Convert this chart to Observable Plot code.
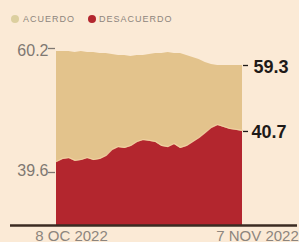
<!DOCTYPE html>
<html><head><meta charset="utf-8">
<script src="https://cdn.jsdelivr.net/npm/d3@7"></script>
<script src="https://cdn.jsdelivr.net/npm/@observablehq/plot@0.6"></script>
<style>
html,body{margin:0;padding:0;background:#fbead6;width:299px;height:242px;overflow:hidden;font-family:"Liberation Sans",Arial,sans-serif}
#legend{position:relative;height:28px}
.sw{position:absolute;top:15px;width:8px;height:8px;border-radius:50%}
.lt{position:absolute;top:14px;font-size:9px;letter-spacing:1px;color:#8d857d;line-height:10px}
</style></head><body>
<div id="legend"></div>
<div id="chart"></div>
<script>
const dates = ["2022-10-08","2022-10-09","2022-10-10","2022-10-11","2022-10-12","2022-10-13","2022-10-14","2022-10-15","2022-10-16","2022-10-17","2022-10-18","2022-10-19","2022-10-20","2022-10-21","2022-10-22","2022-10-23","2022-10-24","2022-10-25","2022-10-26","2022-10-27","2022-10-28","2022-10-29","2022-10-30","2022-10-31","2022-11-01","2022-11-02","2022-11-03","2022-11-04","2022-11-05","2022-11-06","2022-11-07"];
const acuerdo = [60.20,60.20,60.20,60.14,60.20,60.14,60.14,60.07,60.07,60.01,59.94,59.94,59.88,59.94,59.94,60.01,60.07,60.07,60.14,60.07,60.07,59.94,59.81,59.69,59.49,59.36,59.30,59.30,59.30,59.30,59.30];
const desacuerdo = [39.60,39.71,39.74,39.64,39.67,39.74,39.67,39.71,39.81,40.03,40.13,40.10,40.17,40.31,40.38,40.35,40.31,40.17,40.13,40.24,40.10,40.17,40.31,40.45,40.63,40.81,40.91,40.84,40.77,40.74,40.70];
const series = ["ACUERDO","DESACUERDO"];
const colors = ["#e3c38c","#b3262e"];
const startLabels = ["60.2","39.6"];
const endLabels = ["59.3","40.7"];
const xLabels = ["8 OC 2022","7 NOV 2022"];

// legend
const leg = document.getElementById("legend");
const swLeft = [11, 88], txLeft = [23, 99];
series.forEach((s, i) => {
  const sw = document.createElement("div");
  sw.className = "sw"; sw.style.left = swLeft[i] + "px"; sw.style.background = i === 0 ? "#dccf9f" : colors[1];
  leg.appendChild(sw);
  const t = document.createElement("div");
  t.className = "lt"; t.style.left = txLeft[i] + "px"; t.textContent = s;
  leg.appendChild(t);
});

const parse = d3.utcParse("%Y-%m-%d");
const rows = dates.map((d, i) => ({date: parse(d), acuerdo: acuerdo[i], desacuerdo: desacuerdo[i]}));
const first = rows[0], last = rows[rows.length - 1];
const leftA = [{date: first.date, value: first.acuerdo, label: startLabels[0]}];
const leftD = [{date: first.date, value: first.desacuerdo, label: startLabels[1]}];
const rightA = [{date: last.date, value: last.acuerdo, label: endLabels[0]}];
const rightD = [{date: last.date, value: last.desacuerdo, label: endLabels[1]}];
const xl = [{date: first.date, label: xLabels[0]}, {date: last.date, label: xLabels[1]}];

const gray = "#7f7872";
const chart = Plot.plot({
  width: 299, height: 214,
  marginLeft: 10, marginRight: 2, marginTop: 0, marginBottom: 0,
  style: {background: "transparent", overflow: "visible", fontFamily: "'Liberation Sans', Arial, sans-serif"},
  x: {type: "utc", domain: [first.date, last.date], range: [56, 242], axis: null},
  y: {type: "linear", domain: [0, 39.6, 41, 59.3, 60.2], range: [197, 134, 94.5, 37, 23], axis: null},
  marks: [
    Plot.areaY(rows, {x: "date", y: "acuerdo", fill: colors[0]}),
    Plot.areaY(rows, {x: "date", y: "desacuerdo", fill: colors[1]}),
    Plot.line(rows, {x: "date", y: "desacuerdo", stroke: "#f3d3a6", strokeWidth: 1.2, strokeOpacity: 0.8, dy: -1}),
    Plot.ruleY([0], {stroke: "#3b2b22", strokeWidth: 2.5}),
    Plot.ruleY(leftA, {x1: "date", x2: "date", y: "value", insetLeft: -8, insetRight: 1, dy: -3, stroke: gray, strokeWidth: 1.3}),
    Plot.ruleY(leftD, {x1: "date", x2: "date", y: "value", insetLeft: -8, insetRight: 1, dy: 10, stroke: gray, strokeWidth: 1.3}),
    Plot.text(leftA, {x: "date", y: "value", text: "label", textAnchor: "end", dx: -8, dy: -1, fontSize: 16, fill: gray}),
    Plot.text(leftD, {x: "date", y: "value", text: "label", textAnchor: "end", dx: -8, dy: 8, fontSize: 16, fill: gray}),
    Plot.ruleY(rightA, {x1: "date", x2: "date", y: "value", insetLeft: 1, insetRight: -6, stroke: "#1e1a18", strokeWidth: 1.3}),
    Plot.ruleY(rightD, {x1: "date", x2: "date", y: "value", insetLeft: 1, insetRight: -6, stroke: "#1e1a18", strokeWidth: 1.3}),
    Plot.text(rightA, {x: "date", y: "value", text: "label", textAnchor: "start", dx: 11, dy: 1.5, fontSize: 18, fontWeight: "bold", fill: "#1e1a18"}),
    Plot.text(rightD, {x: "date", y: "value", text: "label", textAnchor: "start", dx: 9, dy: 1, fontSize: 18, fontWeight: "bold", fill: "#1e1a18"}),
    Plot.text(xl, {x: "date", frameAnchor: "bottom", text: "label", textAnchor: "middle", dx: 15, dy: -2, fontSize: 15, fill: "#8d857d"})
  ]
});
document.getElementById("chart").appendChild(chart);
</script>
</body></html>
